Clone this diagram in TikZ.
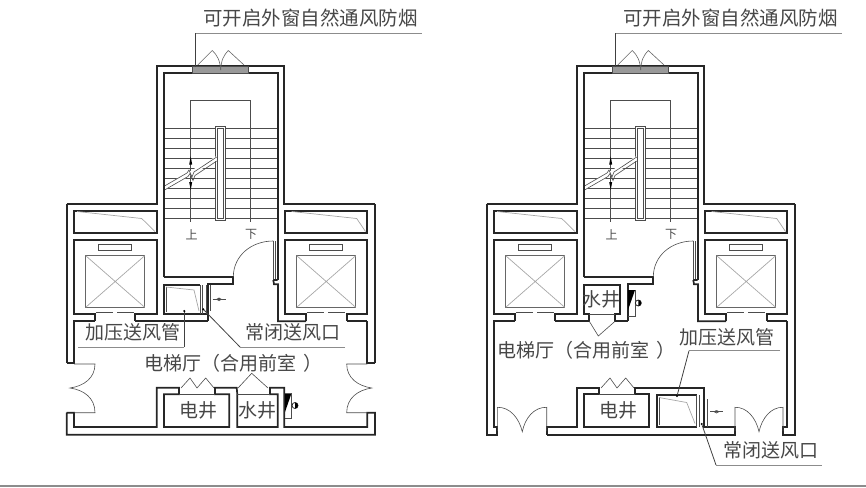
\documentclass[tikz,border=0pt]{standalone}
\usepackage{fontspec}
\newfontfamily\cjk{Noto Sans CJK SC}
\tikzset{
  wall/.style={line width=1.7pt,draw=black!85,line join=miter},
  thin line/.style={line width=0.6pt,draw=black!70},
  hair/.style={line width=0.7pt,draw=black!35},
  leader/.style={line width=0.8pt,draw=black!75},
  underl/.style={line width=1pt,draw=black!45},
  lbl/.style={font=\cjk\fontsize{19}{19}\selectfont,text=black!72,inner sep=0pt},
  toplbl/.style={font=\cjk\fontsize{19.5}{19.5}\selectfont,text=black!72,inner sep=0pt},
  sml/.style={font=\cjk\fontsize{12}{12}\selectfont,text=black!70,inner sep=0pt},
  dot/.style={circle,fill=black,inner sep=0pt,minimum size=2.4pt}
}
% parts shared by both plans
\newcommand{\planCommon}{%
  % stairs
  \foreach \yy in {128.3,138.3,...,219} {\draw[thin line] (164,\yy) -- (277.7,\yy);}
  \draw[thin line] (190.7,221.7) -- (190.7,100.7) -- (250.7,100.7) -- (250.7,221.7);
  \draw[thin line,fill=white] (215.7,126.7) rectangle (225.7,220);
  \draw[thin line,fill=white] (217.7,128.7) rectangle (223.4,218);
  % break line
  \fill[white] (164,186) -- (216.7,156) -- (216.7,160.5) -- (164,190.5) -- cycle;
  \draw[thin line] (164,186.3) -- (187,173) -- (189,170) -- (192,177) -- (194,172) -- (216.7,157);
  \draw[thin line] (164,190.3) -- (188,176.5) -- (190,173.5) -- (193,180.5) -- (195,175.5) -- (216.7,161);
  \fill[black] (190.7,156.5) -- (189.2,164.5) -- (192.2,164.5) -- cycle;
  \fill[black] (190.7,190) -- (189.2,182) -- (192.2,182) -- cycle;
  \node[sml] (up) at (191.5,234.5) {上};
  \node[sml] (dn) at (251,234.5) {下};
  % outer top walls
  \draw[wall] (66.7,204) -- (156.7,204) -- (156.7,66) -- (284.3,66) -- (284.3,204) -- (375,204);
  \draw[wall] (164,277.3) -- (164,73) -- (277.7,73) -- (277.7,280);
  % window
  \draw[thin line,fill=black!40] (192.7,66) rectangle (248.3,73);
  \draw[thin line,draw=black!60] (197.7,65) -- (212.3,50.5) .. controls (217,55) and (220,60) .. (220.7,70);
  \draw[thin line,draw=black!60] (244,65) -- (228.3,50.5) .. controls (224,55) and (221,60) .. (220.7,70);
  % machine rooms
  \draw[wall] (74,211) rectangle (156.7,233);
  \draw[wall] (285,211) rectangle (367.3,233);
  \draw[hair] (77,211.5) -- (141.7,218.5) -- (155,231.5);
  \draw[hair] (291.7,211.5) -- (356.7,218.5) -- (365.5,231.5);
  % elevators
  \draw[wall] (95,321.3) -- (95,314) -- (74,314) -- (74,240) -- (156.7,240) -- (156.7,314) -- (135,314) -- (135,321.3);
  \draw[wall] (306,321.3) -- (306,314) -- (285,314) -- (285,240) -- (367.3,240) -- (367.3,314) -- (346.7,314) -- (346.7,321.3);
  \foreach \dx in {0,211} {
    \draw[thin line] (98.3+\dx,244) rectangle (131.7+\dx,250.7);
    \draw[hair,draw=black!60] (85.7+\dx,255.7) rectangle (144.7+\dx,307.3);
    \draw[hair] (85.7+\dx,255.7) -- (144.7+\dx,307.3) (85.7+\dx,307.3) -- (144.7+\dx,255.7);
    \draw[line width=1pt,draw=black!70] (96+\dx,312.5) -- (113+\dx,312.5) (117+\dx,312.5) -- (134+\dx,312.5);
  }
  % door to stairs and walls around it
  \draw[wall] (164,277.3) -- (233.3,277.3) -- (233.3,284.3) -- (207.7,284.3) -- (207.7,321.3);
  \draw[thin line] (233.3,277) .. controls (233.3,256) and (251,241) .. (273.3,241);
  \draw[thin line] (273.3,241) -- (273.3,280) (275.6,241) -- (275.6,280);
  \draw[wall] (273.3,280) -- (277.7,280) (273.3,280) -- (274,284.3) -- (278,284.3) -- (278,321.3) -- (306,321.3);
  \draw[wall] (346.7,321.3) -- (367.3,321.3);
}
\begin{document}
\begin{tikzpicture}[x=1pt,y=-1pt]
\useasboundingbox (0,0) rectangle (866,487);
\draw[line width=1.2pt,draw=black!45] (0,486) -- (866,486);

%%% ---------- left plan ----------
\planCommon
\draw[wall] (66.7,363) -- (66.7,204);
\draw[wall] (375,363) -- (375,204);
\draw[wall] (66.7,363) -- (74,363) -- (74,321.3) -- (95,321.3);
\draw[wall] (375,363) -- (367.3,363) -- (367.3,321.3);
\draw[wall] (135,321.3) -- (207.7,321.3);
% ventilation shaft
\draw[wall] (200,314) -- (164,314) -- (164,285) -- (200,285);
\draw[wall] (207.7,314) -- (164,314);
\draw[thin line] (166,287) -- (166,312);
\draw[hair] (166,287) -- (194,290) -- (199,311);
\draw[thin line] (200,285) -- (200,314) (202.5,285) -- (202.5,314) (206,285) -- (206,314) (210.7,285) -- (210.7,311);
\draw[thin line] (212.7,299.3) -- (225.7,299.3);
\fill[black!70] (216,299.3) -- (219,297.6) -- (219,301) -- cycle;
\fill[black!70] (222,299.3) -- (219,297.6) -- (219,301) -- cycle;
% bottom walls and doors
\draw[wall] (66.7,412.7) -- (66.7,434.7) -- (375,434.7) -- (375,412.7) -- (367.3,412.7) -- (367.3,427) -- (284.3,427) -- (284.3,387.7) -- (270,387.7) -- (270,394.3) -- (277.7,394.3) -- (277.7,427) -- (237.3,427) -- (237.3,394.3) -- (236.7,387.7) -- (215,387.7) -- (215,394.3) -- (229.3,394.3) -- (229.3,427) -- (164,427) -- (164,394.3) -- (179,394.3) -- (179,387.7) -- (156.7,387.7) -- (156.7,427) -- (74,427) -- (74,412.7) -- (66.7,412.7);
\draw[thin line] (179,394.3) -- (215,394.3) (237.3,394.3) -- (270,394.3);
\draw[thin line] (74,364) -- (95,364) .. controls (95,378) and (84,386) .. (70,388) .. controls (84,390) and (95,398) .. (95,412.7) -- (74,412.7);
\draw[thin line] (367.3,364) -- (346.7,364) .. controls (346.7,378) and (358,386) .. (371.7,388) .. controls (358,390) and (346.7,398) .. (346.7,412.7) -- (367.3,412.7);
\draw[thin line] (181,388) -- (190,378) -- (197,388) -- (205.7,378) -- (214,388);
\draw[thin line] (238,388) -- (251.7,373.3) -- (268,388);
% hydrant
\fill[black] (285,393.3) -- (291.5,393.3) -- (285,412) -- cycle;
\draw[thin line] (285,418) -- (291.7,418) -- (291.7,393.3);
\draw[line width=0.8pt,draw=black!85,fill=white] (295,405.5) circle (3pt);
\fill[black] (295,402.5) arc (90:-90:3pt) -- cycle;
% labels
\node[lbl] (a1) at (133.3,332.5) {加压送风管};
\node[lbl] (a2) at (293.3,332.5) {常闭送风口};
\node[lbl,anchor=west] (a3) at (144.5,363.3) {电梯厅（合用前室\kern7pt）};
\node[lbl] (a4) at (198.3,410) {电井};
\node[lbl] (a5) at (257.7,410) {水井};
\node[toplbl,anchor=base] (a6) at (310.5,26) {可开启外窗自然通风防烟};
\node[dot] (d1) at (184.3,311) {};
\node[dot] (d2) at (203.3,309.3) {};
\coordinate (e1) at (78,347); \coordinate (e1b) at (184.3,347);
\coordinate (e2) at (240,347); \coordinate (e2b) at (345,347);
\coordinate (e3) at (195.7,33.3); \coordinate (e3b) at (421.7,33.3); \coordinate (e3c) at (195.7,67);
\draw[underl] (e1) -- (e1b); \draw[leader] (e1b) -- (d1);
\draw[underl] (e2b) -- (e2); \draw[leader] (e2) -- (d2);
\draw[underl] (e3b) -- (e3); \draw[leader] (e3) -- (e3c);

%%% ---------- right plan ----------
\begin{scope}[xshift=420pt]
\planCommon
\draw[wall] (66.7,204) -- (66.7,434.7) -- (77.3,434.7) -- (77.3,427) -- (74,427) -- (74,321.3) -- (95,321.3);
\draw[wall] (375,204) -- (375,434.7) -- (363,434.7) -- (363,427) -- (367.3,427) -- (367.3,321.3);
\draw[wall] (135,321.3) -- (169.3,321.3) -- (169.3,314) -- (164,314) -- (164,285) -- (200,285) -- (200,314) -- (195,314) -- (195,321.3) -- (207.7,321.3);
\draw[thin line] (169.3,314) -- (195,314);
\draw[thin line] (169.3,321.3) -- (178.3,336) -- (195,321.3);
% hydrant
\fill[black] (208,290) -- (215,290) -- (208,310) -- cycle;
\draw[thin line] (208,316) -- (215,316) -- (215,290);
\draw[line width=0.8pt,draw=black!85,fill=white] (218.3,303) circle (3pt);
\fill[black] (218.3,300) arc (90:-90:3pt) -- cycle;
% bottom walls
\draw[wall] (126.7,434.7) -- (126.7,427) -- (156.7,427) -- (156.7,387.7) -- (179,387.7) -- (179,394.3) -- (164,394.3) -- (164,427) -- (229.3,427) -- (229.3,394.3) -- (215,394.3) -- (215,387.7) -- (284.3,387.7) -- (284.3,427) -- (315,427) -- (315,434.7) -- (126.7,434.7);
\draw[thin line] (179,394.3) -- (215,394.3);
\draw[thin line] (181,388) -- (190,378) -- (197,388) -- (205.7,378) -- (214,388);
% bottom doors
\draw[thin line] (77.3,431) -- (77.3,407.3) .. controls (90,407) and (99,418) .. (102.3,431.7) .. controls (105,418) and (114,407) .. (126.7,407.3) -- (126.7,431);
\draw[thin line] (315,431) -- (315,407.3) .. controls (327,407) and (336,418) .. (339,431.7) .. controls (342,418) and (351,407) .. (363,407.3) -- (363,431);
% shaft
\draw[wall] (276.7,395) -- (237.3,395) -- (237.3,427) -- (276.7,427);
\draw[thin line] (239,397) -- (239,425) (276.7,395) -- (276.7,427) (279,395) -- (279,427) (287.7,399) -- (287.7,427);
\draw[hair] (239,397.5) -- (266.7,402.5) -- (275,423.5);
\draw[thin line] (290,411.7) -- (303,411.7);
\fill[black!70] (293.5,411.7) -- (296.5,410) -- (296.5,413.4) -- cycle;
\fill[black!70] (299.5,411.7) -- (296.5,410) -- (296.5,413.4) -- cycle;
% labels
\node[lbl] (b1) at (307,337) {加压送风管};
\node[lbl] (b2) at (350.7,450) {常闭送风口};
\node[lbl,anchor=west] (b3) at (77.5,350) {电梯厅（合用前室\kern7pt）};
\node[lbl] (b4) at (198.3,410) {电井};
\node[lbl] (b5) at (181.7,299.5) {水井};
\node[toplbl,anchor=base] (b6) at (310.5,26) {可开启外窗自然通风防烟};
\node[dot] (f1) at (257,396) {};
\node[dot] (f2) at (281.7,424) {};
\coordinate (g1) at (269,350.7); \coordinate (g1b) at (360,350.7);
\coordinate (g2) at (296,465); \coordinate (g2b) at (401.7,465);
\coordinate (g3) at (195.7,33.3); \coordinate (g3b) at (421.7,33.3); \coordinate (g3c) at (195.7,67);
\draw[underl] (g1b) -- (g1); \draw[leader] (g1) -- (f1);
\draw[underl] (g2b) -- (g2); \draw[leader] (g2) -- (f2);
\draw[underl] (g3b) -- (g3); \draw[leader] (g3) -- (g3c);
\end{scope}
\end{tikzpicture}
\end{document}
